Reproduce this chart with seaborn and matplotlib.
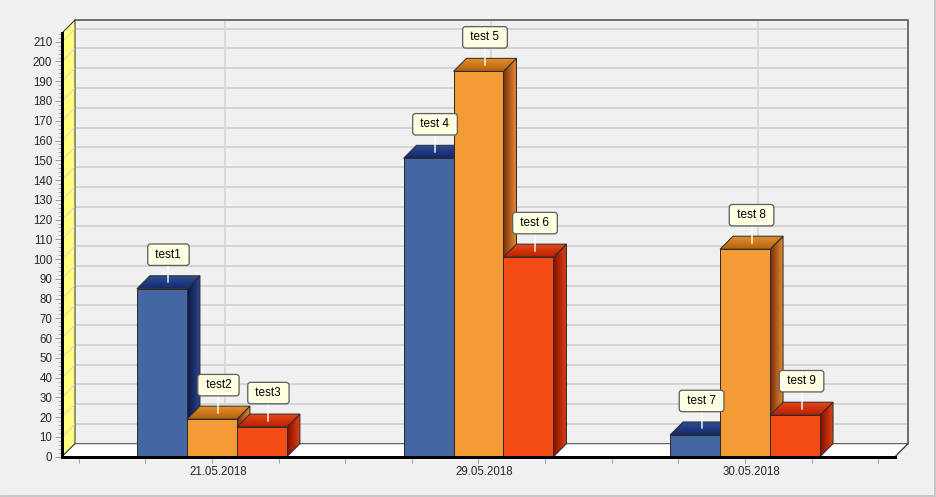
import numpy as np
import pandas as pd
import matplotlib
matplotlib.use('Agg')
import matplotlib.pyplot as plt
import seaborn as sns
from matplotlib.patches import Polygon, Rectangle
from matplotlib.lines import Line2D
from matplotlib.colors import LinearSegmentedColormap
from matplotlib.transforms import offset_copy, ScaledTranslation
from matplotlib.ticker import MultipleLocator, FixedLocator

# chart data
dates = ['21.05.2018', '29.05.2018', '30.05.2018']
series = ['s1', 's2', 's3']
values_s1 = [85, 151, 11]
values_s2 = [19, 195, 105]
values_s3 = [15, 101, 21]
labels_s1 = ['test1', 'test 4', 'test 7']
labels_s2 = ['test2', 'test 5', 'test 8']
labels_s3 = ['test3', 'test 6', 'test 9']

front_colors = ['#4466a2', '#f39c36', '#f24c14']
# (back, front) colours of the top face, (left, right) of the side face
top_colors = [('#2c4c94', '#14286a'), ('#e0902c', '#b8620e'), ('#e84818', '#b82000')]
side_colors = [('#0a1540', '#2c4a90'), ('#7a2a08', '#e08a30'), ('#801000', '#e04014')]

df = pd.DataFrame({
    'date': dates * 3,
    'series': [s for s in series for _ in dates],
    'value': values_s1 + values_s2 + values_s3,
})
bar_labels = [labels_s1, labels_s2, labels_s3]

sns.set_style('white')
plt.rcParams['font.family'] = ['Liberation Sans', 'DejaVu Sans']

W, H = 937, 497
DEPTH = 13  # 3d depth in pixels
PT = 0.72   # one pixel in points
fig = plt.figure(figsize=(W / 100, H / 100), dpi=100, facecolor='#f0f0f0')
ax = fig.add_axes([62 / W, 1 - 456.7 / H, 833 / W, (456.7 - 33) / H])
ax.set_facecolor('none')

sns.barplot(data=df, x='date', y='value', hue='series', hue_order=series,
            palette=front_colors, saturation=1, width=0.5625,
            edgecolor='#2b2b2b', linewidth=PT, legend=False, ax=ax)

x0, x1 = -0.5625, 2.5625
ytop = 214.4
ax.set_xlim(x0, x1)
ax.set_ylim(0, ytop)

# depth expressed in data units
p0 = ax.transData.transform((0, 0))
dd = ax.transData.inverted().transform(p0 + np.array([DEPTH, DEPTH]))
ddx, ddy = dd[0], dd[1]
sy = ddy / DEPTH

back = offset_copy(ax.transData, fig=fig, x=DEPTH, y=DEPTH, units='dots')


def grad_poly(pts, c1, c2, horizontal, z):
    poly = Polygon(pts, closed=True, fc='none', ec='#2b2b2b', lw=PT, zorder=z + 0.01, clip_on=False)
    ax.add_patch(poly)
    xs = [p[0] for p in pts]
    ys = [p[1] for p in pts]
    cmap = LinearSegmentedColormap.from_list('g', [c1, c2])
    g = np.linspace(0, 1, 64)
    arr = g[None, :] if horizontal else g[:, None]
    im = ax.imshow(arr, cmap=cmap, aspect='auto', interpolation='bilinear', origin='upper',
                   extent=(min(xs), max(xs), min(ys), max(ys)), zorder=z)
    im.set_clip_path(poly)


# back wall + grid
ax.add_patch(Rectangle((x0, 0), x1 - x0, ytop, transform=back, fc='#f0f0f0',
                       ec='none', zorder=0.5, clip_on=False))
for v in range(10, 211, 10):
    ax.plot([x0, x1], [v, v], transform=back, color='#d4d4d4', lw=2 * PT,
            zorder=1, clip_on=False, solid_capstyle='butt')
for c in range(len(dates)):
    ax.plot([c, c], [0, ytop], transform=back, color='#d4d4d4', lw=1.5 * PT,
            zorder=1, clip_on=False)
ax.plot([x0, x1, x1], [ytop, ytop, 0], transform=back, color='#707070',
        lw=2 * PT, zorder=1.2, clip_on=False)

# left (yellow) wall
ax.add_patch(Polygon([(x0, 0), (x0 + ddx, ddy), (x0 + ddx, ytop + ddy), (x0, ytop)],
                     closed=True, fc='#ffff80', ec='#303030', lw=PT, zorder=1.5, clip_on=False))
for v in range(10, 211, 10):
    ax.plot([x0, x0 + ddx], [v, v + ddy], color='#c8c8c8', lw=0.8 * PT,
            zorder=1.6, clip_on=False)

# floor
ax.add_patch(Polygon([(x0, 0), (x1, 0), (x1 + ddx, ddy), (x0 + ddx, ddy)],
                     closed=True, fc='white', ec='#404040', lw=PT, zorder=1.5, clip_on=False))
ax.plot([x1, x1 + ddx], [0, ddy], color='#404040', lw=PT, zorder=1.6, clip_on=False)

# 3d faces of the bars
bars = []
for i, cont in enumerate(ax.containers):
    for j, bar in enumerate(cont):
        bars.append((bar.get_x(), i, j, bar))
bars.sort(key=lambda b: b[0])

for k, (bx, i, j, bar) in enumerate(bars):
    w = bar.get_width()
    h = bar.get_height()
    z = 3 + k * 0.1
    bar.set_zorder(z + 0.05)
    grad_poly([(bx + w, 0), (bx + w + ddx, ddy), (bx + w + ddx, h + ddy), (bx + w, h)],
              side_colors[i][0], side_colors[i][1], True, z)
    grad_poly([(bx, h), (bx + w, h), (bx + w + ddx, h + ddy), (bx + ddx, h + ddy)],
              top_colors[i][0], top_colors[i][1], False, z + 0.02)

# labels
for k, (bx, i, j, bar) in enumerate(bars):
    w = bar.get_width()
    h = bar.get_height()
    cx = bx + w / 2 + ddx / 2
    ax.plot([cx, cx], [h + ddy / 2, h + 25 * sy], color='white', lw=2 * PT,
            alpha=0.7, zorder=9, clip_on=False)
    ax.text(cx, h + 34 * sy, ' ' + bar_labels[i][j] + ' ', ha='center', va='center',
            fontsize=8.5, color='black', zorder=10, clip_on=False,
            bbox=dict(boxstyle='round,pad=0.4,rounding_size=0.25', fc='#ffffe1',
                      ec='#606060', lw=1.3 * PT))

ax.set_xlim(x0, x1)
ax.set_ylim(0, ytop)

# axes styling
for s in ['top', 'right']:
    ax.spines[s].set_visible(False)
for s in ['left', 'bottom']:
    ax.spines[s].set_color('black')
    ax.spines[s].set_linewidth(3 * PT)
    ax.spines[s].set_zorder(8)

ax.yaxis.set_major_locator(MultipleLocator(10))
ax.yaxis.set_minor_locator(MultipleLocator(2))
ax.tick_params(axis='y', which='major', length=5, width=PT, color='#a0a0a0',
               labelsize=8.3, pad=2, left=True)
ax.tick_params(axis='y', which='minor', length=3, width=PT, color='#b0b0b0', left=True)

ax.xaxis.set_minor_locator(FixedLocator([-0.5, -0.25, 0.25, 0.5, 0.75, 1.25,
                                         1.5, 1.75, 2.25, 2.5]))
ax.tick_params(axis='x', which='both', length=4, width=PT, color='#a0a0a0',
               labelsize=8.3, pad=3, bottom=True)
for lab in ax.get_xticklabels():
    lab.set_transform(lab.get_transform() + ScaledTranslation(6 / 100, 0, fig.dpi_scale_trans))
ax.set_xlabel('')
ax.set_ylabel('')

# window border
fig.add_artist(Line2D([0, 1], [1.5 / H, 1.5 / H], color='#c8c8c8', lw=3 * PT))
fig.add_artist(Line2D([1 - 1.5 / W, 1 - 1.5 / W], [0, 1], color='#c8c8c8', lw=3 * PT))

fig.savefig('out.png', dpi=100, facecolor=fig.get_facecolor())
